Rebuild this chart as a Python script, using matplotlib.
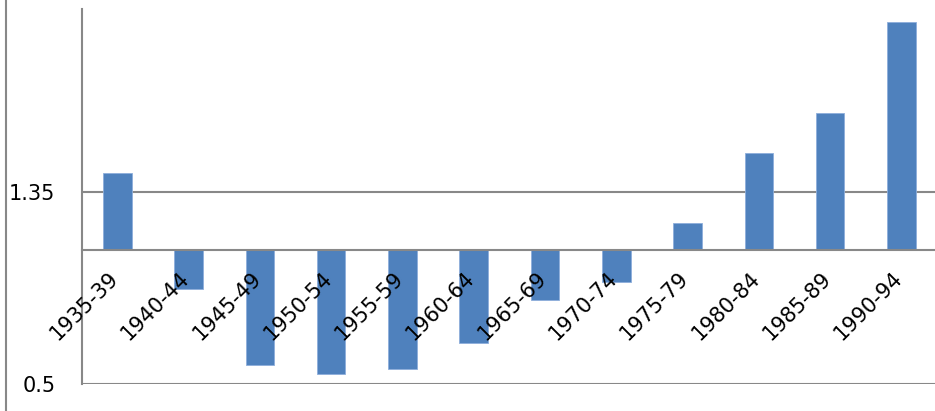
import matplotlib
matplotlib.use("Agg")
import matplotlib.pyplot as plt
from matplotlib.lines import Line2D
from matplotlib.transforms import ScaledTranslation

categories = ["1935-39", "1940-44", "1945-49", "1950-54", "1955-59", "1960-64",
              "1965-69", "1970-74", "1975-79", "1980-84", "1985-89", "1990-94"]
values = [1.437, 0.919, 0.581, 0.543, 0.566, 0.681,
          0.870, 0.954, 1.212, 1.523, 1.704, 2.106]
baseline = 1.095
yticks = [0.5, 1.35]
ytick_labels = ["0.5", "1.35"]

plt.rcParams['font.family'] = ['DejaVu Sans']

fig = plt.figure(figsize=(9.35, 4.11), dpi=100)
ax = fig.add_axes([81.7/935, 27.3/411, (937-81.7)/935, (402-27.3)/411])

bar_color = "#4F81BD"
grid_color = "#888888"

x = list(range(len(categories)))
heights = [v - baseline for v in values]
ax.bar(x, heights, bottom=baseline, width=0.4, color=bar_color,
       edgecolor="#8EAEDB", linewidth=0.6, zorder=2)

ax.set_xlim(-0.5, len(categories) - 0.5)
ax.set_ylim(0.5, 2.165)

for yv in yticks:
    ax.axhline(yv, color=grid_color, linewidth=1.5, zorder=1)

ax.set_axisbelow(False)
ax.set_yticks(yticks)
ax.set_yticklabels(ytick_labels, fontsize=15)
ax.tick_params(axis='y', length=0, pad=19)

ax.spines['top'].set_visible(False)
ax.spines['right'].set_visible(False)
ax.spines['left'].set_color(grid_color)
ax.spines['left'].set_linewidth(1.5)
ax.spines['bottom'].set_position(('data', baseline))
ax.spines['bottom'].set_color(grid_color)
ax.spines['bottom'].set_linewidth(1.5)

ax.set_xticks(x)
ax.set_xticklabels(categories, fontsize=15, rotation=45, ha='right', va='top')
ax.tick_params(axis='x', length=0, pad=13)
offset = ScaledTranslation(5/100, 0, fig.dpi_scale_trans)
for lab in ax.get_xticklabels():
    lab.set_transform(lab.get_transform() + offset)

fig.add_artist(Line2D([6/935, 6/935], [0, 1], transform=fig.transFigure,
                      color=grid_color, linewidth=1.5))

fig.savefig("out.png", dpi=100)
